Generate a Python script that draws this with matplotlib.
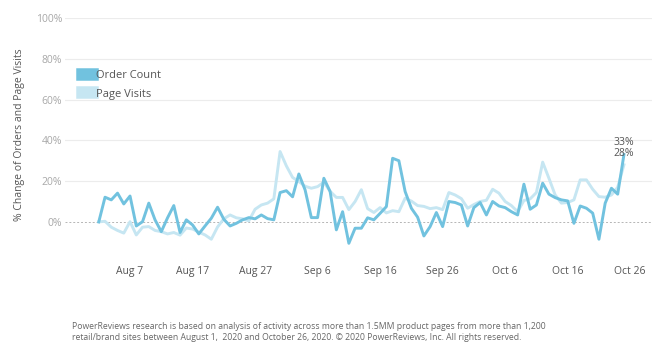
import numpy as np
import pandas as pd
import matplotlib
matplotlib.use('Agg')
import matplotlib.pyplot as plt
import matplotlib.dates as mdates
from matplotlib.ticker import FuncFormatter

plt.rcParams['font.family'] = ['Open Sans', 'DejaVu Sans']

dates = pd.date_range('2020-08-02', '2020-10-25', freq='D')

order_count = [0, 12.1, 10.8, 14.1, 8.8, 12.7, -2.0, 0.1, 9.2, 1.0,
               -4.8, 2, 8, -5.2, 1, -1.5, -5.9, -2, 1.8, 7.2,
               1.3, -2, -0.7, 1, 2.1, 1.5, 3.4, 1.6, 1.0, 14.4,
               15.3, 12.3, 23.5, 15.7, 2.1, 2.1, 21.4, 14.9, -3.9, 5,
               -10.5, -3.1, -3.1, 2, 1, 4.2, 7.5, 31.2, 30, 14.9,
               6.7, 2.3, -6.9, -2.3, 4.6, -2.3, 10, 9.5, 8.3, -2,
               7, 9.5, 3.4, 10, 7.8, 7, 5, 3.4, 18.5, 6.2,
               8.3, 19, 13.6, 11.9, 10.8, 10.3, -0.7, 7.8, 6.7, 4.3,
               -8.5, 9.2, 16.5, 13.6, 33]

page_visits = [0, 0.3, -2.6, -4.2, -5.5, 0.1, -6.4, -2.6, -2.3, -4.2,
               -4.8, -5.9, -5.2, -6.5, -3, -3.5, -5, -6.4, -8.5, -2.5,
               1.5, 3.4, 2, 1.5, 0.5, 6.2, 8.3, 9.2, 11.3, 34.5,
               27.5, 21.8, 19.8, 17.5, 16.5, 17.3, 19.5, 15, 12, 12,
               6, 10, 15.8, 6.5, 4.6, 7, 4.4, 5.5, 5, 11.6,
               10.2, 8, 7.6, 6.5, 7, 6, 14.4, 13.2, 11.4, 6.7,
               8.5, 10, 10.6, 16, 14.1, 10, 8, 5, 10.5, 11.3,
               14.4, 29.3, 21.4, 13.2, 9.2, 9.5, 10.8, 20.6, 20.6, 16,
               12.4, 12.1, 13.2, 17, 28]

tick_dates = pd.to_datetime(['2020-08-07', '2020-08-17', '2020-08-27', '2020-09-06',
                             '2020-09-16', '2020-09-26', '2020-10-06', '2020-10-16',
                             '2020-10-26'])
y_ticks = [0, 20, 40, 60, 80, 100]

dark = '#71c2df'
light = '#c6e6f2'

fig = plt.figure(figsize=(6.6, 3.53), dpi=100)
ax = fig.add_axes([0.0985, 0.279, 0.8895, 0.67])

ax.plot(dates, page_visits, color=light, lw=2.1, label='Page Visits', zorder=2)
ax.plot(dates, order_count, color=dark, lw=2.1, label='Order Count', zorder=3)

start = pd.Timestamp('2020-08-01')
ax.set_xlim(start - pd.Timedelta(days=4.4), start + pd.Timedelta(days=89.5))
ax.set_ylim(-16, 100)

ax.set_xticks(tick_dates)
ax.xaxis.set_major_formatter(FuncFormatter(
    lambda v, p: '{:%b} {}'.format(mdates.num2date(v), mdates.num2date(v).day)))
ax.set_yticks(y_ticks)
ax.yaxis.set_major_formatter(FuncFormatter(lambda v, p: '%d%%' % v))
ax.tick_params(axis='x', length=0, pad=8, labelsize=7.5, labelcolor='#555555')
ax.tick_params(axis='y', length=0, pad=2, labelsize=7.5, labelcolor='#a8a8a8')

for y in y_ticks[1:]:
    ax.axhline(y, color='#ececec', lw=0.8, zorder=0)
ax.axhline(0, color='#b5b5b5', lw=0.7, ls=(0, (2, 2)), zorder=1)

for s in ax.spines.values():
    s.set_visible(False)

ax.set_ylabel('% Change of Orders and Page Visits', fontsize=7.5, color='#555555')
ax.yaxis.set_label_coords(-0.068, 0.505)

# end-of-line labels
ax.annotate('%d%%' % order_count[-1], (dates[-1], order_count[-1]), xytext=(0, 9),
            textcoords='offset points', ha='center', va='center', fontsize=7.5, color='#555555')
ax.annotate('%d%%' % page_visits[-1], (dates[-1], page_visits[-1]), xytext=(0, 8),
            textcoords='offset points', ha='center', va='center', fontsize=7.5, color='#555555')

handles, labels = ax.get_legend_handles_labels()
leg = ax.legend(handles[::-1], labels[::-1], loc='upper left', bbox_to_anchor=(0.012, 0.825),
                frameon=False, fontsize=8, handlelength=0.9, handleheight=1.0,
                handletextpad=0.4, labelspacing=0.6, labelcolor='#555555')
for h, c in zip(leg.legend_handles, [dark, light]):
    h.set_linewidth(9)
    h.set_color(c)

fig.text(0.109, 0.03,
         'PowerReviews research is based on analysis of activity across more than 1.5MM product pages from more than 1,200\n'
         'retail/brand sites between August 1,  2020 and October 26, 2020. \u00a9 2020 PowerReviews, Inc. All rights reserved.',
         fontsize=6.2, color='#666666', ha='left', va='bottom', linespacing=1.35)

fig.savefig('out.png', dpi=100, facecolor='white')
